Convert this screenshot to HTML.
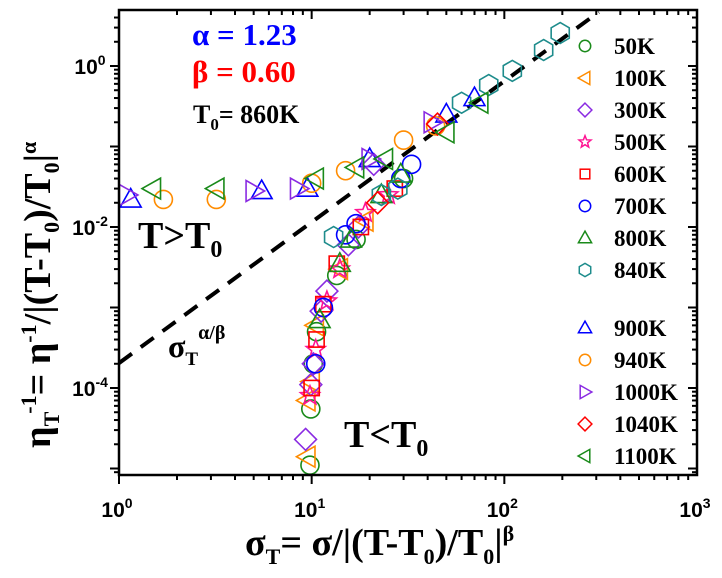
<!DOCTYPE html>
<html><head><meta charset="utf-8"><style>
body{margin:0;background:#fff;width:722px;height:578px;overflow:hidden}
svg{display:block}
</style></head><body>
<svg id="c" width="722" height="578" xmlns="http://www.w3.org/2000/svg"></svg>
<script>
const seriesNames=["50K","100K","300K","500K","600K","700K","800K","840K","900K","940K","1000K","1040K","1100K"];
const seriesColors=["#1a8a1a","#ff8c00","#8a2be2","#ff1493","#ff0000","#0000ff","#1a8a1a","#1e8c8c","#0000ff","#ff8c00","#8a2be2","#ff0000","#1a8a1a"];
const seriesShapes=["circle","ltri","diamond","star","square","circle","utri","hex","utri","circle","rtri","diamond","ltri"];
const s50K=[[9.8,1.1e-5],[9.9,5.5e-5],[10.2,2e-4],[10.6,5e-4],[13.5,2.5e-3],[17,7e-3],[30,0.04]];
const s100K=[[9.5,1.4e-5],[9.5,7e-5],[10,1.2e-4],[10.5,6e-4],[14,3e-3],[19,1.2e-2]];
const s300K=[[9.3,2.3e-5],[9.9,1.1e-4],[10.2,2e-4],[11.2,9e-4],[12,1.6e-3],[15.5,6e-3],[17.5,1e-2],[21,0.06]];
const s500K=[[9.8,8e-5],[10.5,3e-4],[12,1.2e-3],[14,3e-3],[19,0.015],[25,0.025]];
const s600K=[[10,1e-4],[10.6,4e-4],[11.5,1.1e-3],[13.5,3.5e-3],[18,0.01],[27,0.03]];
const s700K=[[10.5,2e-4],[11.5,1e-3],[15,8e-3],[17,0.011],[29,0.04],[33,0.06]];
const s800K=[[11,7e-4],[14,3.5e-3],[16,7e-3],[23,0.025],[29,0.045]];
const s840K=[[13,7.5e-3],[23,0.025],[28,0.03],[60,0.35],[83,0.58],[110,0.87],[160,1.58],[195,2.57]];
const s900K=[[1.15,0.022],[5.5,0.028],[9.5,0.03],[20,0.07],[50,0.25],[70,0.4]];
const s940K=[[1.7,0.022],[3.2,0.022],[10,0.035],[15,0.05],[30,0.12],[44,0.18]];
const s1000K=[[1.1,0.025],[5,0.028],[8.5,0.03],[20,0.07],[42,0.2]];
const s1040K=[[45,0.19],[22,0.02]];
const s1100K=[[1.5,0.03],[3.2,0.03],[10.5,0.04],[17,0.055],[24,0.07],[50,0.15],[75,0.35]];
const allSeries=[s50K,s100K,s300K,s500K,s600K,s700K,s800K,s840K,s900K,s940K,s1000K,s1040K,s1100K];
const xTickExp=[0,1,2,3];
const yTickExp=[0,-2,-4];
const fitLine=[[1,2.04e-4],[309,4.68]];

const L=119,R=697,T=10,B=475;
const X=v=>L+Math.log10(v)*(R-L)/3;
const Y=v=>66-Math.log10(v)*80.5;
const NS="http://www.w3.org/2000/svg";
const svg=document.getElementById('c');
function mk(tag,a,p){const e=document.createElementNS(NS,tag);for(const k in a)e.setAttribute(k,a[k]);(p||svg).appendChild(e);return e;}

const clip=mk('clipPath',{id:'cp'});mk('rect',{x:L,y:T,width:R-L,height:B-T},clip);

const fl=mk('line',{x1:X(fitLine[0][0]),y1:Y(fitLine[0][1]),x2:X(fitLine[1][0]),y2:Y(fitLine[1][1]),stroke:'#000','stroke-width':4,'stroke-dasharray':'16,11','clip-path':'url(#cp)'});



function marker(shape,cx,cy,col,g,r,sw){
  const st={fill:'none',stroke:col,'stroke-width':sw};
  let e;
  if(shape==='circle')e=mk('circle',Object.assign({cx,cy,r:r*0.95},st),g);
  else if(shape==='square')e=mk('rect',Object.assign({x:cx-r*0.8,y:cy-r*0.8,width:r*1.6,height:r*1.6},st),g);
  else{
    let pts=[];
    if(shape==='diamond')pts=[[0,-1.15],[1.15,0],[0,1.15],[-1.15,0]];
    else if(shape==='utri')pts=[[0,-1.15],[1.1,0.8],[-1.1,0.8]];
    else if(shape==='ltri')pts=[[-1.15,0],[0.8,-1.1],[0.8,1.1]];
    else if(shape==='rtri')pts=[[1.15,0],[-0.8,-1.1],[-0.8,1.1]];
    else if(shape==='hex'){for(let i=0;i<6;i++){const a=Math.PI/3*i+Math.PI/6;pts.push([1.1*Math.cos(a),1.1*Math.sin(a)]);}}
    else if(shape==='star'){for(let i=0;i<10;i++){const a=-Math.PI/2+Math.PI/5*i,rr=i%2?0.45:1.05;pts.push([rr*Math.cos(a),rr*Math.sin(a)]);}}
    e=mk('polygon',Object.assign({points:pts.map(p=>(cx+p[0]*r)+','+(cy+p[1]*r)).join(' ')},st),g);
  }
  return e;
}
allSeries.forEach((s,i)=>{
  const g=mk('g',{'clip-path':'url(#cp)'});
  
  
  s.forEach(p=>{const m=marker(seriesShapes[i],X(p[0]),Y(p[1]),seriesColors[i],g,9.5,1.6);
    
    });
});
seriesNames.forEach((n,i)=>{
  const y=46+i*32+(i>=8?26:0);
  const g=mk('g',{});
  
  
  marker(seriesShapes[i],585,y,seriesColors[i],g,6,1.5);
  const t=mk('text',{x:614,y:y+8,'font-family':'Liberation Serif, serif','font-weight':'bold','font-size':23},g);t.textContent=n;
});
const fr=mk('rect',{x:L,y:T,width:R-L,height:B-T,fill:'none',stroke:'#000','stroke-width':2.5});

const tk=mk('g',{stroke:'#000','stroke-width':2});

for(let d=0;d<3;d++)for(let m=1;m<10;m++){const x=X(m*Math.pow(10,d));const len=m===1?9:5;
  mk('line',{x1:x,y1:B,x2:x,y2:B+len},tk);mk('line',{x1:x,y1:T,x2:x,y2:T+len},tk);}
for(let d=-6;d<1;d++)for(let m=1;m<10;m++){const v=m*Math.pow(10,d);const y=Y(v);if(y<T||y>B)continue;
  const len=m===1?9:5;
  mk('line',{x1:L,y1:y,x2:L-len,y2:y},tk);mk('line',{x1:R,y1:y,x2:R-len,y2:y},tk);}
xTickExp.forEach(e=>{const t=mk('text',{x:X(Math.pow(10,e))-2,y:517,'font-family':'Liberation Sans, sans-serif','font-weight':'bold','font-size':21,'text-anchor':'middle'});
  
  t.innerHTML='10<tspan dy="-9" font-size="14">'+e+'</tspan>';});
yTickExp.forEach(e=>{const t=mk('text',{x:90,y:Y(Math.pow(10,e))+8,'font-family':'Liberation Sans, sans-serif','font-weight':'bold','font-size':21,'text-anchor':'middle'});
  
  t.innerHTML='10<tspan dy="-9" font-size="14">'+e+'</tspan>';});
function txt(name,x,y,html,attrs){const t=mk('text',Object.assign({x,y,'font-family':'Liberation Serif, serif','font-weight':'bold'},attrs));
  t.innerHTML=html;return t;}
txt('alpha-value',192,45,'α = 1.23',{'font-size':31,fill:'#0000ff'});
txt('beta-value',192,82,'β = 0.60',{'font-size':31,fill:'#ff0000'});
txt('t0-value',193,123,'T<tspan dy="7" font-size="17">0</tspan><tspan dy="-7">= 860K</tspan>',{'font-size':26});
txt('t-above-t0-label',138,248,'T&gt;T<tspan dy="9" font-size="24">0</tspan>',{'font-size':38});
txt('sigma-power-label',168,357,'σ<tspan dy="8" font-size="19">T</tspan><tspan dy="-26" font-size="20">α/β</tspan>',{'font-size':32});
txt('t-below-t0-label',344,447,'T&lt;T<tspan dy="9" font-size="24">0</tspan>',{'font-size':38});
txt('x-axis-title',245,555,'σ<tspan dy="9" font-size="22">T</tspan><tspan dy="-9">= σ/|(T-T</tspan><tspan dy="9" font-size="22">0</tspan><tspan dy="-9">)/T</tspan><tspan dy="9" font-size="22">0</tspan><tspan dy="-9">|</tspan><tspan dy="-14" font-size="22">β</tspan>',{'font-size':38});
txt('y-axis-title',0,0,'η<tspan dy="9" font-size="22">T</tspan><tspan dy="-23" font-size="22">-1</tspan><tspan dy="14">= η</tspan><tspan dy="-14" font-size="22">-1</tspan><tspan dy="14">/|(T-T</tspan><tspan dy="9" font-size="22">0</tspan><tspan dy="-9">)/T</tspan><tspan dy="9" font-size="22">0</tspan><tspan dy="-9">|</tspan><tspan dy="-14" font-size="22">α</tspan>',{'font-size':38,transform:'translate(50,448) rotate(-90)'});
</script>
</body></html>
